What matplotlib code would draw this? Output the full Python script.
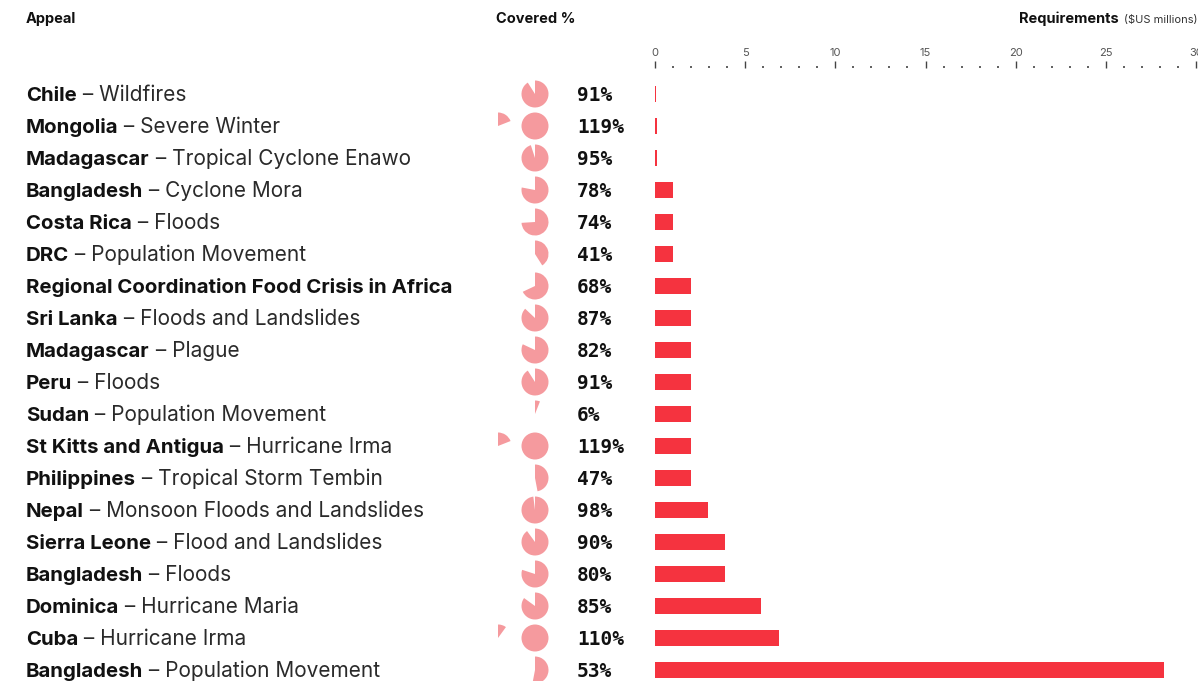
import matplotlib
matplotlib.use("Agg")
import matplotlib.pyplot as plt
from matplotlib.patches import Wedge, Circle
from matplotlib.ticker import MultipleLocator

countries = ["Chile", "Mongolia", "Madagascar", "Bangladesh", "Costa Rica", "DRC",
             "Regional Coordination Food Crisis in Africa", "Sri Lanka", "Madagascar",
             "Peru", "Sudan", "St Kitts and Antigua", "Philippines", "Nepal",
             "Sierra Leone", "Bangladesh", "Dominica", "Cuba", "Bangladesh"]
events = ["Wildfires", "Severe Winter", "Tropical Cyclone Enawo", "Cyclone Mora", "Floods",
          "Population Movement", "", "Floods and Landslides", "Plague", "Floods",
          "Population Movement", "Hurricane Irma", "Tropical Storm Tembin",
          "Monsoon Floods and Landslides", "Flood and Landslides", "Floods",
          "Hurricane Maria", "Hurricane Irma", "Population Movement"]
covered = [91, 119, 95, 78, 74, 41, 68, 87, 82, 91, 6, 119, 47, 98, 90, 80, 85, 110, 53]
requirements = [0.07, 0.1, 0.1, 1.0, 1.0, 1.0, 2.0, 2.0, 2.0, 2.0, 2.0, 2.0, 2.0,
                2.95, 3.9, 3.9, 5.9, 6.85, 28.2]
x_ticks = [0, 5, 10, 15, 20, 25, 30]

W, H = 1198, 681
BAR_C = "#F5333F"
PIE_C = "#F59A9E"
TXT = "#111111"

fig = plt.figure(figsize=(W / 100, H / 100), dpi=100)

# overlay axes in pixel coordinates (y upward)
ov = fig.add_axes([0, 0, 1, 1])
ov.set_xlim(0, W)
ov.set_ylim(0, H)
ov.axis("off")

def row_y(i):
    return H - (94 + 32 * i)

# bar axes
top_px, bot_px = 68, 686
x0_px, x1_px = 655, 1196
axb = fig.add_axes([x0_px / W, (H - bot_px) / H, (x1_px - x0_px) / W, (bot_px - top_px) / H])
axb.set_xlim(0, 30)
axb.set_ylim(18.5, (top_px - 94) / 32)
axb.barh(range(len(requirements)), requirements, height=0.5, color=BAR_C)
for s in axb.spines.values():
    s.set_visible(False)
axb.patch.set_alpha(0)
axb.xaxis.set_ticks_position("top")
axb.set_xticks(x_ticks)
axb.xaxis.set_minor_locator(MultipleLocator(1))
axb.tick_params(axis="x", which="major", direction="out", length=5, width=1,
                color="#444444", labelsize=8, labelcolor="#555555", pad=2,
                top=True, bottom=False)
for lbl in axb.get_xticklabels():
    lbl.set_family("Inter")
axb.tick_params(axis="x", which="minor", direction="out", length=1.2, width=1.2,
                color="#444444", top=True, bottom=False)
axb.set_yticks([])

# headers
hfont = dict(family="Inter", weight="bold", fontsize=10.5, color=TXT, va="center")
ov.text(26, H - 19, "Appeal", **hfont)
ov.text(496, H - 19, "Covered %", **hfont)
req = ov.text(1019, H - 19, "Requirements", **hfont)
fig.canvas.draw()
r = fig.canvas.get_renderer()
bb = req.get_window_extent(r)
ov.text(bb.x1 + 5, H - 20, "($US millions)", family="Inter", fontsize=8,
        color="#333333", va="center")

# rows
for i, (c, e) in enumerate(zip(countries, events)):
    y = row_y(i)
    base = y - 7
    t = ov.text(26, base, c, family="Inter", weight="bold", fontsize=14.7,
                color=TXT, va="baseline")
    if e:
        bb = t.get_window_extent(r)
        ov.text(bb.x1, base, " \u2013 " + e, family="Inter", weight="normal",
                fontsize=15, color="#2a2a2a", va="baseline")
    ov.text(577, base, f"{covered[i]}%", family="DejaVu Sans Mono", weight="bold",
            fontsize=14, color=TXT, va="baseline")
    # pie
    p = covered[i] / 100.0
    cx, rad = 535, 13.5
    if p >= 1:
        ov.add_patch(Circle((cx, y), rad, color=PIE_C, lw=0))
        extra = p - 1
        ov.add_patch(Wedge((cx - 37, y), rad, 90 - 360 * extra, 90, color=PIE_C, lw=0))
    else:
        ov.add_patch(Wedge((cx, y), rad, 90 - 360 * p, 90, color=PIE_C, lw=0))

fig.savefig("out.png", dpi=100)
